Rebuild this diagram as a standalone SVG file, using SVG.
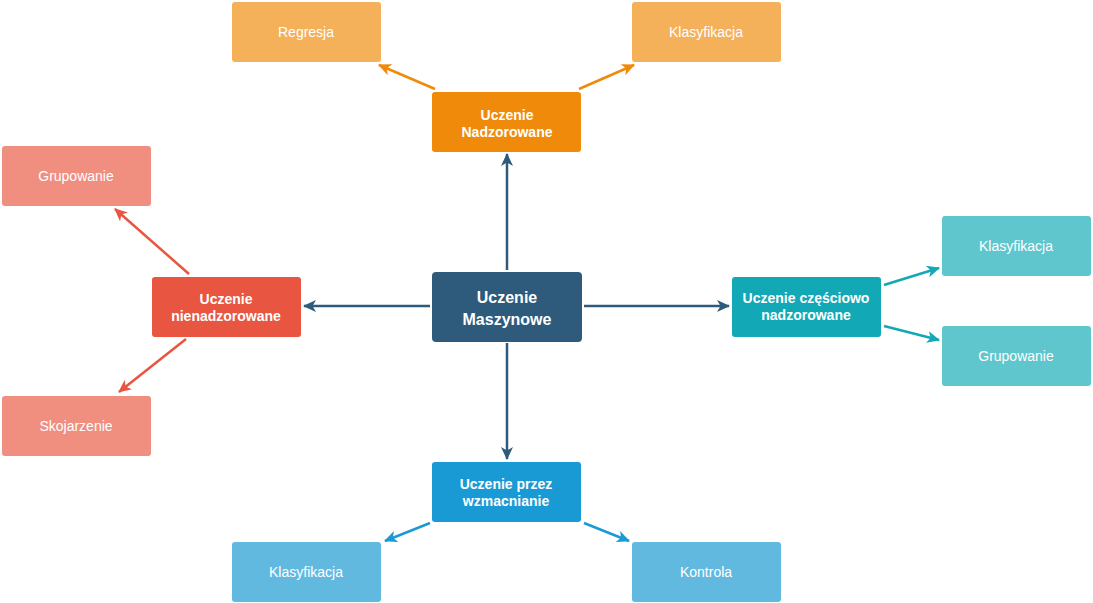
<svg xmlns="http://www.w3.org/2000/svg" width="1093" height="603" viewBox="0 0 1093 603">
<defs>
<style>
.t{font-family:"Liberation Sans",Arial,sans-serif;fill:#ffffff;text-anchor:middle}
.b{font-weight:bold;font-size:14px}
.c{font-weight:bold;font-size:16px}
.l{font-size:14px}
.e{fill:none;stroke-width:2.5}
</style>
<marker id="mN" markerUnits="userSpaceOnUse" markerWidth="14" markerHeight="12" refX="12" refY="6" orient="auto" viewBox="0 0 14 12"><path d="M0,0 L13,6 L0,12 L3.5,6 Z" fill="#2e5b7b"/></marker>
<marker id="mO" markerUnits="userSpaceOnUse" markerWidth="14" markerHeight="12" refX="12" refY="6" orient="auto" viewBox="0 0 14 12"><path d="M0,0 L13,6 L0,12 L3.5,6 Z" fill="#f08a0a"/></marker>
<marker id="mR" markerUnits="userSpaceOnUse" markerWidth="14" markerHeight="12" refX="12" refY="6" orient="auto" viewBox="0 0 14 12"><path d="M0,0 L13,6 L0,12 L3.5,6 Z" fill="#e85540"/></marker>
<marker id="mT" markerUnits="userSpaceOnUse" markerWidth="14" markerHeight="12" refX="12" refY="6" orient="auto" viewBox="0 0 14 12"><path d="M0,0 L13,6 L0,12 L3.5,6 Z" fill="#12a8b5"/></marker>
<marker id="mB" markerUnits="userSpaceOnUse" markerWidth="14" markerHeight="12" refX="12" refY="6" orient="auto" viewBox="0 0 14 12"><path d="M0,0 L13,6 L0,12 L3.5,6 Z" fill="#1a9ad4"/></marker>
</defs>
<rect width="1093" height="603" fill="#ffffff"/>
<g id="connectors">
<line class="e" x1="507" y1="270" x2="507" y2="154" stroke="#2e5b7b" marker-end="url(#mN)"/>
<line class="e" x1="430" y1="306" x2="304" y2="306" stroke="#2e5b7b" marker-end="url(#mN)"/>
<line class="e" x1="584" y1="306" x2="729" y2="306" stroke="#2e5b7b" marker-end="url(#mN)"/>
<line class="e" x1="507" y1="343" x2="507" y2="459" stroke="#2e5b7b" marker-end="url(#mN)"/>
<line class="e" x1="435" y1="89" x2="379" y2="65" stroke="#f08a0a" marker-end="url(#mO)"/>
<line class="e" x1="579" y1="89" x2="634" y2="65" stroke="#f08a0a" marker-end="url(#mO)"/>
<line class="e" x1="189" y1="274" x2="115" y2="209" stroke="#e85540" marker-end="url(#mR)"/>
<line class="e" x1="186" y1="339" x2="119" y2="392" stroke="#e85540" marker-end="url(#mR)"/>
<line class="e" x1="884" y1="285" x2="939" y2="268" stroke="#12a8b5" marker-end="url(#mT)"/>
<line class="e" x1="884" y1="326" x2="939" y2="340" stroke="#12a8b5" marker-end="url(#mT)"/>
<line class="e" x1="430" y1="523" x2="385" y2="541" stroke="#1a9ad4" marker-end="url(#mB)"/>
<line class="e" x1="584" y1="523" x2="629" y2="541" stroke="#1a9ad4" marker-end="url(#mB)"/>
</g>
<g id="central"><rect x="432" y="272" width="150" height="70" rx="4" fill="#2e5b7b"/><text class="t c" x="507" y="303">Uczenie</text><text class="t c" x="507" y="325">Maszynowe</text></g>
<g id="supervised"><rect x="432" y="92" width="149" height="60" rx="3" fill="#f08a0a"/><text class="t b" x="507" y="120">Uczenie</text><text class="t b" x="507" y="137">Nadzorowane</text></g>
<g id="regresja"><rect x="232" y="2" width="149" height="60" rx="3" fill="#f5b05a"/><text class="t l" x="306" y="37">Regresja</text></g>
<g id="klas-sup"><rect x="632" y="2" width="149" height="60" rx="3" fill="#f5b05a"/><text class="t l" x="706" y="37">Klasyfikacja</text></g>
<g id="unsupervised"><rect x="152" y="277" width="149" height="60" rx="3" fill="#e85540"/><text class="t b" x="226" y="304">Uczenie</text><text class="t b" x="226" y="321">nienadzorowane</text></g>
<g id="grup-uns"><rect x="2" y="146" width="149" height="60" rx="3" fill="#f08e80"/><text class="t l" x="76" y="181">Grupowanie</text></g>
<g id="skojarzenie"><rect x="2" y="396" width="149" height="60" rx="3" fill="#f08e80"/><text class="t l" x="76" y="431">Skojarzenie</text></g>
<g id="semi"><rect x="732" y="277" width="149" height="60" rx="3" fill="#12a8b5"/><text class="t b" x="806" y="303">Uczenie częściowo</text><text class="t b" x="806" y="320">nadzorowane</text></g>
<g id="klas-semi"><rect x="942" y="216" width="149" height="60" rx="3" fill="#60c6cd"/><text class="t l" x="1016" y="251">Klasyfikacja</text></g>
<g id="grup-semi"><rect x="942" y="326" width="149" height="60" rx="3" fill="#60c6cd"/><text class="t l" x="1016" y="361">Grupowanie</text></g>
<g id="reinforcement"><rect x="432" y="462" width="149" height="60" rx="3" fill="#1a9ad4"/><text class="t b" x="506" y="489">Uczenie przez</text><text class="t b" x="506" y="506">wzmacnianie</text></g>
<g id="klas-rl"><rect x="232" y="542" width="149" height="60" rx="3" fill="#62b9e0"/><text class="t l" x="306" y="577">Klasyfikacja</text></g>
<g id="kontrola"><rect x="632" y="542" width="149" height="60" rx="3" fill="#62b9e0"/><text class="t l" x="706" y="577">Kontrola</text></g>
</svg>
